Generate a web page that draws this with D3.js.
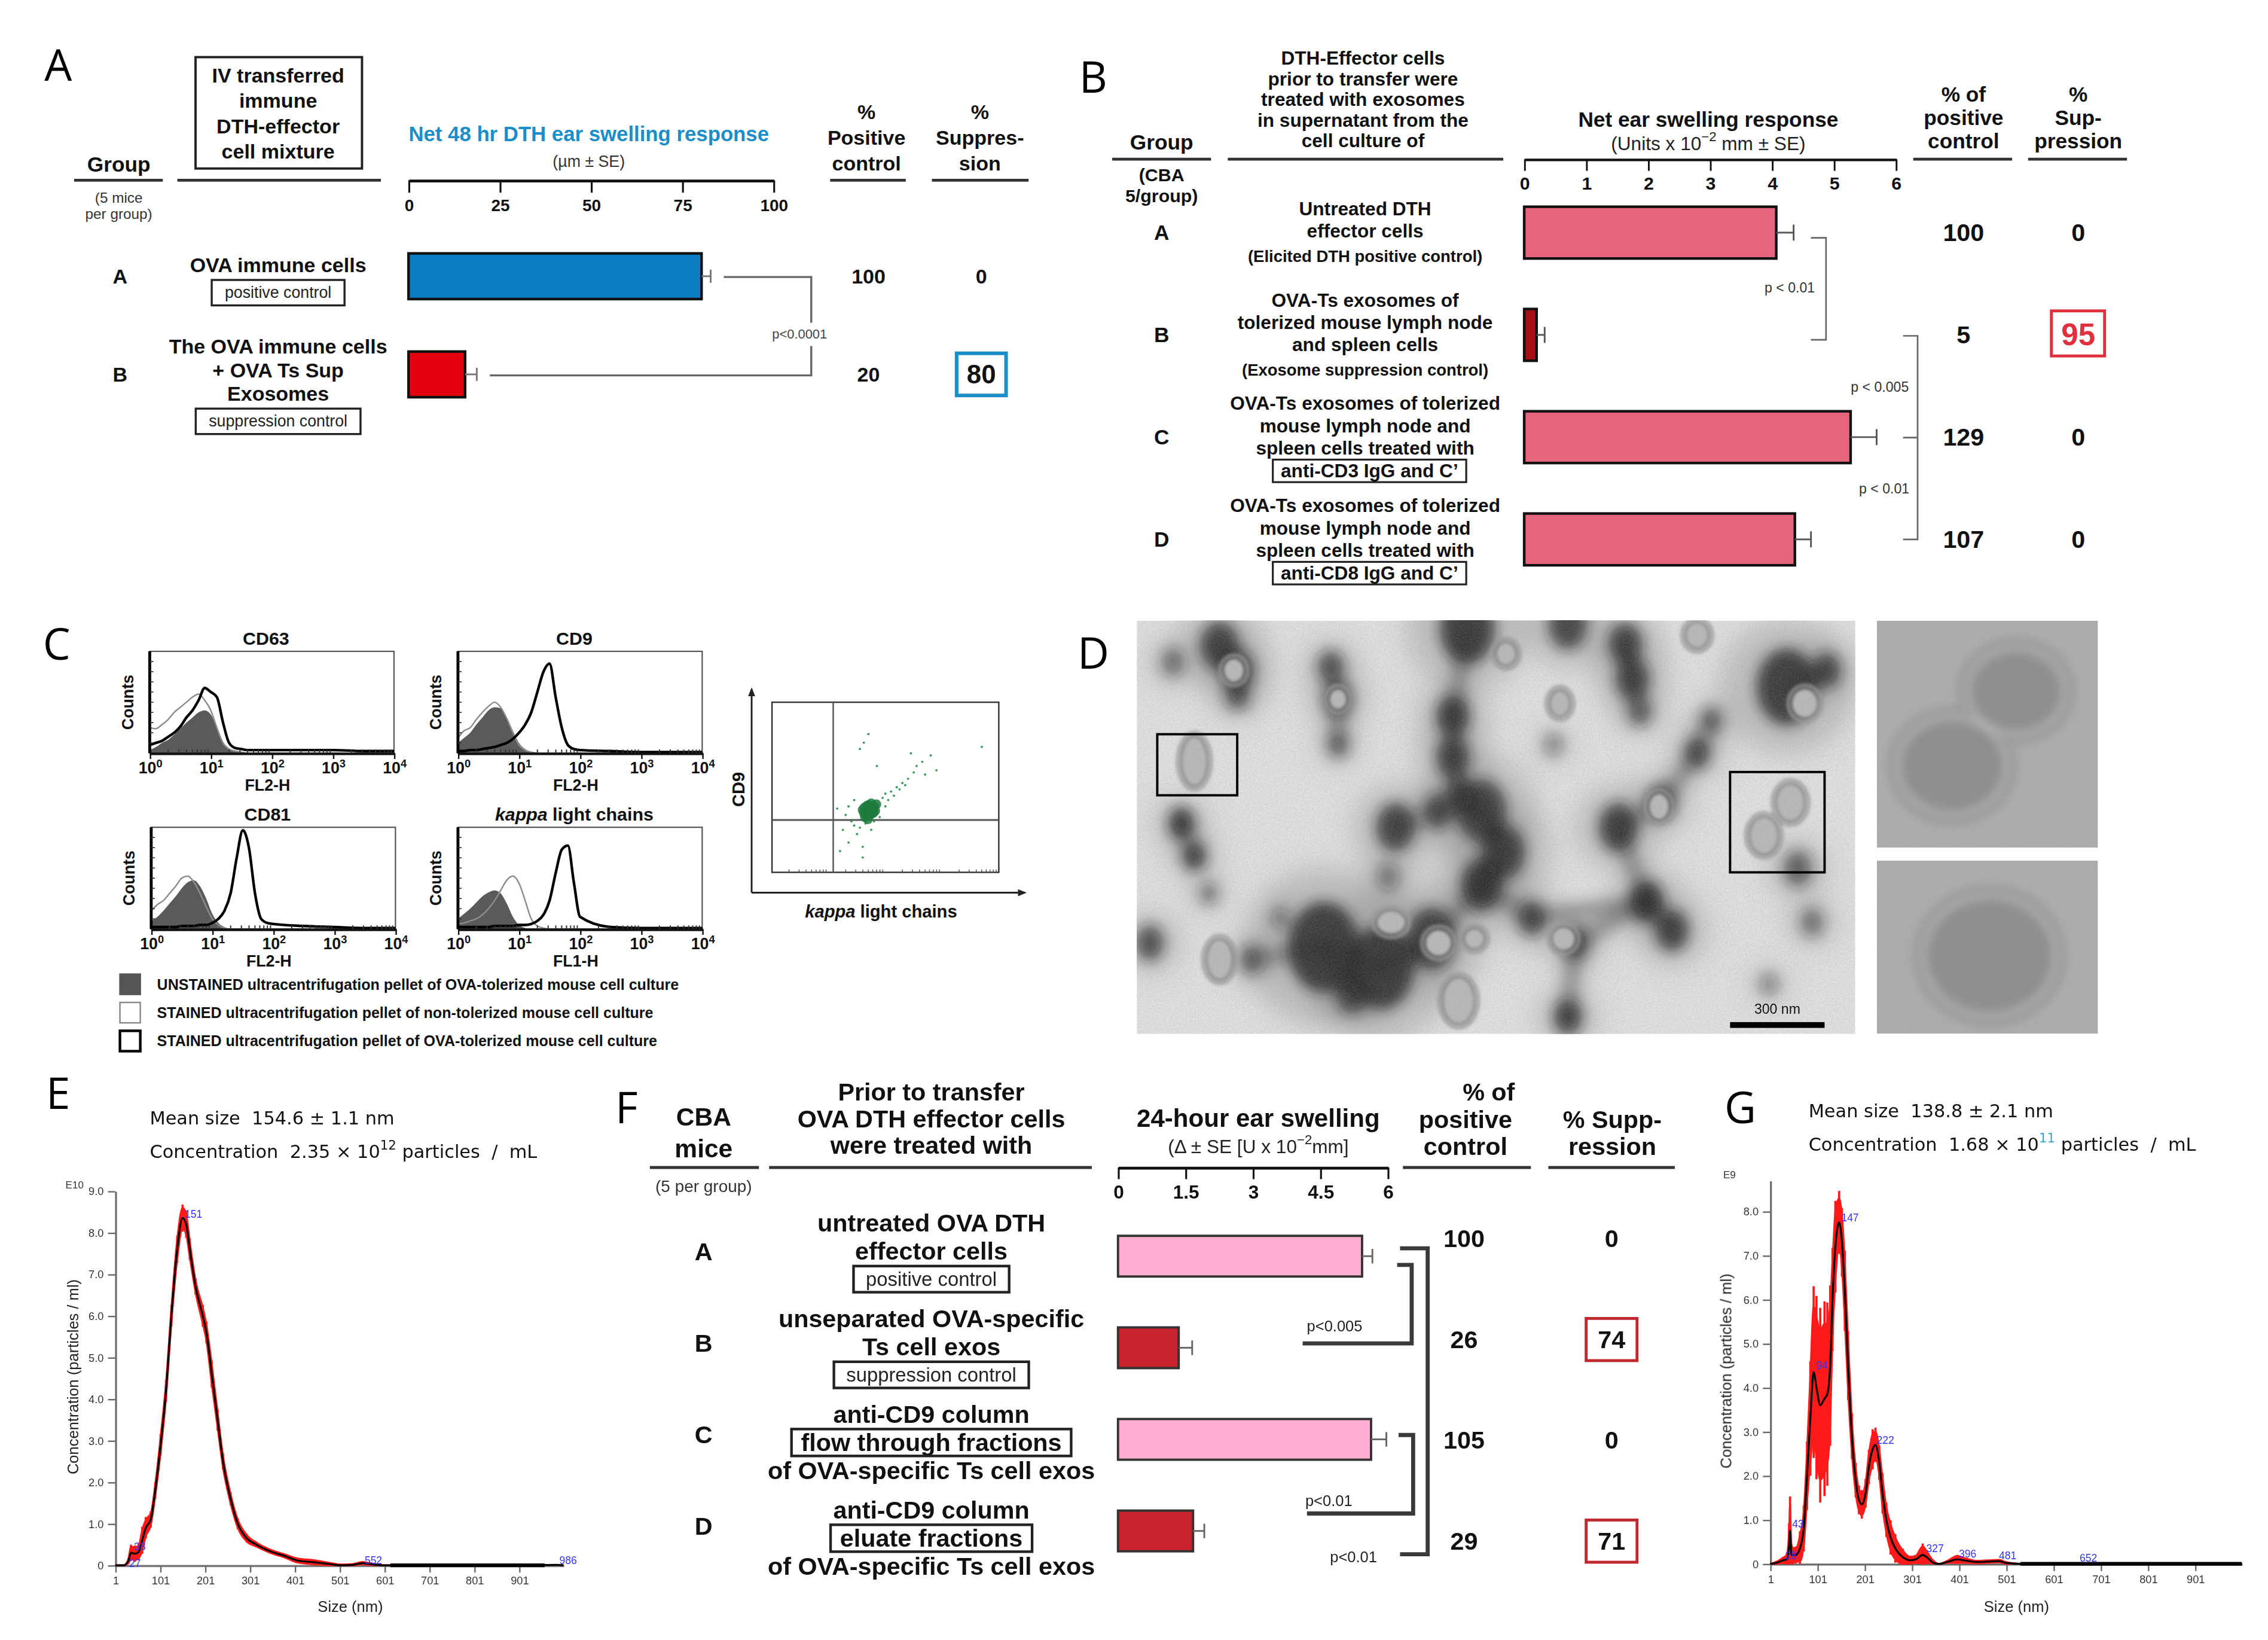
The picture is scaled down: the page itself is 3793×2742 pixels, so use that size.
<!DOCTYPE html>
<html>
<head>
<meta charset="utf-8">
<title>Exosome suppression figure</title>
<script src="https://cdn.jsdelivr.net/npm/d3@7"></script>
<style>
  html, body { margin: 0; padding: 0; background: #fff; }
  svg { display: block; }
</style>
</head>
<body>
<div id="figure"></div>
<script>
// ---------- panel A : 48 hr DTH ear swelling ----------
const aGroups = ['A', 'B'];
const aTreatment = [['OVA immune cells'], ['The OVA immune cells', '+ OVA Ts Sup', 'Exosomes']];
const aTags = ['positive control', 'suppression control'];
const aSwelling = [80.3, 15.5];
const aSE = [2.5, 3.2];
const aPositive = [100, 20];
const aSuppression = [0, 80];
const aTicks = [0, 25, 50, 75, 100];

// ---------- panel B : net ear swelling ----------
const bGroups = ['A', 'B', 'C', 'D'];
const bTreatment = [
  ['Untreated DTH', 'effector cells'],
  ['OVA-Ts exosomes of', 'tolerized mouse lymph node', 'and spleen cells'],
  ['OVA-Ts exosomes of tolerized', 'mouse lymph node and', 'spleen cells treated with'],
  ['OVA-Ts exosomes of tolerized', 'mouse lymph node and', 'spleen cells treated with']
];
const bNotes = ['(Elicited DTH positive control)', '(Exosome suppression control)', null, null];
const bTags = [null, null, 'anti-CD3 IgG and C\u2019', 'anti-CD8 IgG and C\u2019'];
const bSwelling = [4.07, 0.2, 5.27, 4.37];
const bSE = [0.28, 0.13, 0.42, 0.26];
const bPositive = [100, 5, 129, 107];
const bSuppression = [0, 95, 0, 0];
const bTicks = [0, 1, 2, 3, 4, 5, 6];

// ---------- panel C : flow cytometry histograms (log10 decades, % of max) ----------
const histLog = [0, 0.1, 0.2, 0.3, 0.4, 0.5, 0.6, 0.7, 0.8, 0.9, 1.0, 1.1, 1.2, 1.3, 1.4, 1.5, 1.6, 1.7, 1.8, 1.9, 2.0, 2.5, 3.0, 3.5, 4.0];
const cd63Unstained = [3, 6, 10, 13, 18, 24, 30, 35, 40, 42, 38, 25, 10, 4, 2, 1, 0, 0, 0, 0, 0, 0, 0, 0, 0];
const cd63NonTol = [25, 24, 28, 33, 40, 45, 50, 55, 58, 52, 42, 25, 10, 4, 2, 1, 0, 0, 0, 0, 0, 0, 0, 0, 0];
const cd63Tol = [8, 10, 12, 16, 20, 26, 35, 42, 52, 64, 60, 55, 30, 10, 5, 4, 3, 3, 3, 3, 3, 3, 3, 2, 2];
const cd9Unstained = [10, 15, 20, 28, 35, 42, 45, 44, 35, 22, 10, 4, 1, 0, 0, 0, 0, 0, 0, 0, 0, 0, 0, 0, 0];
const cd9NonTol = [15, 22, 25, 33, 40, 46, 50, 45, 34, 20, 8, 3, 1, 0, 0, 0, 0, 0, 0, 0, 0, 0, 0, 0, 0];
const cd9Tol = [2, 2, 3, 3, 4, 5, 6, 8, 10, 14, 20, 28, 40, 60, 80, 88, 55, 25, 8, 4, 3, 2, 1, 1, 1];
const cd81Unstained = [8, 12, 18, 25, 32, 40, 46, 48, 42, 30, 15, 6, 2, 0, 0, 0, 0, 0, 0, 0, 0, 0, 0, 0, 0];
const cd81NonTol = [18, 24, 28, 35, 42, 50, 52, 46, 35, 22, 10, 4, 1, 0, 0, 0, 0, 0, 0, 0, 0, 0, 0, 0, 0];
const cd81Tol = [2, 2, 2, 2, 2, 3, 3, 3, 4, 4, 6, 10, 18, 35, 70, 97, 80, 35, 10, 6, 5, 3, 2, 1, 1];
const kappaUnstained = [10, 15, 20, 26, 32, 36, 38, 35, 25, 12, 4, 1, 0, 0, 0, 0, 0, 0, 0, 0, 0, 0, 0, 0, 0];
const kappaNonTol = [5, 6, 8, 10, 14, 20, 28, 38, 48, 52, 45, 28, 10, 3, 1, 0, 0, 0, 0, 0, 0, 0, 0, 0, 0];
const kappaTol = [2, 2, 2, 2, 2, 2, 3, 3, 3, 3, 4, 4, 5, 8, 14, 28, 55, 78, 82, 45, 12, 2, 1, 1, 1];
const histTicks = [0, 1, 2, 3, 4];

// dot plot CD9 vs kappa (log10 decades)
const dotKappa = [1.55, 1.62, 1.70, 2.30, 2.40, 2.50, 2.55, 2.65, 2.20, 2.10, 2.00, 1.95, 2.05, 2.15, 2.25, 2.35, 1.50, 1.45, 1.40, 1.60,
  1.35, 1.30, 1.25, 3.70, 2.80, 1.85, 1.15, 2.70, 1.90, 1.75, 1.55, 1.65, 1.80, 2.00, 1.45, 1.35, 2.45, 2.90, 1.20, 1.60];
const dotCD9 = [2.90, 3.05, 3.25, 2.10, 2.20, 2.35, 2.50, 2.60, 2.00, 1.90, 1.85, 1.75, 1.70, 1.80, 1.95, 2.05, 0.90, 1.10, 1.20, 0.60,
  0.70, 1.35, 1.00, 2.95, 2.75, 2.50, 1.50, 2.30, 1.30, 1.00, 1.05, 1.15, 1.20, 1.55, 1.70, 1.55, 2.80, 2.40, 0.50, 0.35];
const coreKappa = [1.62, 1.68, 1.74, 1.80, 1.66, 1.72, 1.78, 1.70, 1.64, 1.76, 1.84, 1.69, 1.73, 1.60, 1.82, 1.75, 1.67, 1.71, 1.79, 1.63];
const coreCD9 = [1.40, 1.45, 1.50, 1.55, 1.35, 1.42, 1.48, 1.58, 1.30, 1.38, 1.60, 1.25, 1.52, 1.47, 1.45, 1.62, 1.56, 1.33, 1.40, 1.52];
const gateKappa = 1.08;
const gateCD9 = 1.23;

// ---------- panel D : electron micrograph (fractions of frame, radius px) ----------
const temDark = [[0.115, 0.06, 14, 0.85], [0.14, 0.12, 12, 0.8], [0.14, 0.18, 8, 0.7], [0.27, 0.11, 9, 0.7], [0.28, 0.19, 10, 0.75],
  [0.28, 0.30, 7, 0.6], [0.46, 0.02, 20, 0.9], [0.6, 0.01, 14, 0.85], [0.68, 0.055, 12, 0.85], [0.69, 0.14, 12, 0.8], [0.70, 0.22, 8, 0.6],
  [0.905, 0.16, 22, 0.95], [0.96, 0.12, 10, 0.8], [0.44, 0.23, 12, 0.85], [0.44, 0.33, 12, 0.8], [0.45, 0.42, 10, 0.75], [0.062, 0.49, 9, 0.9],
  [0.08, 0.57, 8, 0.85], [0.36, 0.5, 14, 0.85], [0.42, 0.46, 10, 0.7], [0.48, 0.46, 18, 0.85], [0.51, 0.56, 16, 0.85], [0.48, 0.64, 15, 0.9],
  [0.67, 0.5, 14, 0.85], [0.73, 0.44, 10, 0.8], [0.78, 0.32, 9, 0.7], [0.8, 0.24, 7, 0.6], [0.71, 0.68, 12, 0.9], [0.745, 0.75, 12, 0.85],
  [0.26, 0.79, 26, 0.95], [0.34, 0.84, 24, 0.95], [0.41, 0.77, 18, 0.85], [0.3, 0.9, 12, 0.8], [0.018, 0.78, 10, 0.8], [0.6, 0.96, 10, 0.85],
  [0.1, 0.66, 6, 0.6], [0.92, 0.6, 10, 0.7], [0.94, 0.73, 8, 0.6], [0.16, 0.82, 8, 0.6], [0.61, 0.78, 10, 0.7], [0.55, 0.72, 10, 0.75],
  [0.35, 0.62, 8, 0.5], [0.2, 0.72, 6, 0.5], [0.88, 0.88, 6, 0.5], [0.05, 0.1, 8, 0.6], [0.58, 0.3, 6, 0.5]];
// dark stain strands joining blobs (indices into temDark)
const temStrands = [[6, 13], [13, 14], [14, 15], [15, 20], [20, 21], [21, 22], [18, 19], [19, 20], [22, 31], [29, 30], [30, 31],
  [23, 24], [23, 27], [27, 28], [24, 25], [25, 26], [11, 12], [8, 9], [9, 10], [0, 1], [1, 2], [3, 4], [4, 5], [16, 17],
  [29, 32], [40, 22], [40, 27], [38, 29], [39, 27], [34, 39]];
const temVesicles = [[0.08, 0.34, 9, 17], [0.91, 0.44, 10, 13], [0.873, 0.52, 10, 13], [0.589, 0.2, 7, 9], [0.727, 0.45, 7, 9],
  [0.115, 0.82, 9, 14], [0.448, 0.92, 11, 16], [0.594, 0.77, 8, 8], [0.354, 0.73, 10, 8], [0.47, 0.77, 7, 7], [0.78, 0.035, 8, 9],
  [0.514, 0.08, 7, 8], [0.135, 0.12, 7, 8], [0.28, 0.19, 6, 7], [0.93, 0.2, 9, 10], [0.42, 0.78, 9, 9]];
const insetTopVesicles = [[0.63, 0.31, 33, 29], [0.34, 0.64, 37, 33]];
const insetBottomVesicles = [[0.51, 0.55, 45, 41]];

// ---------- panel E / G : nanoparticle tracking ----------
const eSize = [1, 20, 30, 36, 45, 53, 61, 69, 80, 90, 102, 114, 126, 139, 151, 159, 167, 180, 196, 204,
  216, 229, 241, 258, 274, 294, 315, 348, 380, 405, 446, 479, 503, 530, 552, 575, 602, 700, 800, 900, 986, 1000];
const eConc = [0, 0, 0.1, 0.3, 0.28, 0.32, 0.6, 0.9, 1.1, 1.8, 2.9, 4.2, 6.0, 7.6, 8.35, 8.2, 7.6, 6.7, 6.0, 5.6,
  4.6, 3.5, 2.5, 1.6, 1.0, 0.65, 0.5, 0.33, 0.22, 0.12, 0.07, 0.03, 0, 0.01, 0.05, 0.02, 0, 0, 0, 0, 0.01, 0];
const eErr = [0, 0, 0.05, 0.15, 0.15, 0.15, 0.25, 0.2, 0.15, 0.15, 0.2, 0.2, 0.2, 0.25, 0.25, 0.25, 0.2, 0.15, 0.2, 0.2,
  0.25, 0.2, 0.15, 0.12, 0.1, 0.08, 0.05, 0.04, 0.04, 0.05, 0.05, 0.03, 0.02, 0.02, 0.03, 0.02, 0, 0, 0, 0, 0, 0];
const ePeaks = [27, 38, 151, 552, 986];
const ePeakY = [0.05, 0.45, 8.45, 0.12, 0.12];
const eBaseline = [614, 958];
const eYTicks = [0, 1, 2, 3, 4, 5, 6, 7, 8, 9];

const gSize = [1, 16, 28, 36, 41, 43, 46, 55, 64, 72, 79, 86, 93, 99, 107, 116, 122, 128, 133, 139,
  147, 153, 159, 166, 174, 182, 189, 195, 203, 210, 218, 224, 232, 239, 247, 256, 266, 282, 297, 309,
  324, 336, 347, 359, 378, 397, 416, 439, 462, 486, 501, 532, 1000];
const gConc = [0, 0.03, 0.08, 0.1, 0.4, 0.75, 0.2, 0.2, 0.35, 0.8, 2.0, 3.3, 4.35, 4.0, 3.6, 3.75, 3.85, 4.5, 6.0, 7.2,
  7.75, 7.3, 6.2, 4.5, 2.9, 1.9, 1.45, 1.35, 1.6, 2.2, 2.6, 2.7, 2.3, 1.6, 1.0, 0.6, 0.35, 0.15, 0.08, 0.1,
  0.2, 0.12, 0.02, 0, 0.05, 0.1, 0.07, 0.04, 0.05, 0.06, 0.02, 0, 0];
const gErr = [0, 0.03, 0.06, 0.1, 0.4, 0.6, 0.2, 0.15, 0.3, 0.4, 0.6, 1.0, 1.5, 1.6, 1.7, 1.7, 1.6, 1.4, 0.9, 0.8,
  0.55, 0.6, 0.7, 0.6, 0.4, 0.3, 0.25, 0.25, 0.25, 0.3, 0.35, 0.3, 0.3, 0.35, 0.3, 0.3, 0.25, 0.15, 0.08, 0.08,
  0.2, 0.1, 0.05, 0, 0.03, 0.08, 0.05, 0.03, 0.03, 0.03, 0.02, 0, 0];
const gPeaks = [28, 43, 94, 147, 222, 327, 396, 481, 652];
const gPeakY = [0.19, 0.9, 4.5, 7.86, 2.8, 0.35, 0.23, 0.19, 0.13];
const gBaseline = [531, 1000];
const gYTicks = [0, 1, 2, 3, 4, 5, 6, 7, 8];
const ntaTicks = [1, 101, 201, 301, 401, 501, 601, 701, 801, 901];

// ---------- panel F : 24-hour ear swelling ----------
const fGroups = ['A', 'B', 'C', 'D'];
const fLines = [['untreated OVA DTH', 'effector cells'], ['unseparated OVA-specific', 'Ts cell exos'], ['anti-CD9 column'], ['anti-CD9 column']];
const fTags = ['positive control', 'suppression control', 'flow through fractions', 'eluate fractions'];
const fAfter = [null, null, 'of OVA-specific Ts cell exos', 'of OVA-specific Ts cell exos'];
const fSwelling = [5.43, 1.35, 5.63, 1.67];
const fSE = [0.23, 0.3, 0.34, 0.25];
const fPositive = [100, 26, 105, 29];
const fSuppression = [0, 74, 0, 71];
const fTicks = [0, 1.5, 3, 4.5, 6];

// ================= drawing =================
const W = 1560, H = 1128;
const svg = d3.select('#figure').append('svg')
  .attr('width', 3793).attr('height', 2742)
  .attr('viewBox', `0 0 ${W} ${H}`)
  .attr('preserveAspectRatio', 'none')
  .style('background', '#fff');
const defs = svg.append('defs');

const SANS = "'Liberation Sans', Arial, Helvetica, sans-serif";
const VERD = "'DejaVu Sans', Verdana, sans-serif";
const LETTER = "'Open Sans', 'Liberation Sans', sans-serif";
const plain = d => String(d);

function txt(g, x, y, s, o = {}) {
  return g.append('text')
    .attr('x', x).attr('y', y)
    .attr('text-anchor', o.anchor || 'middle')
    .attr('dominant-baseline', 'central')
    .attr('font-family', o.family || SANS)
    .attr('font-size', o.size || 12)
    .attr('font-weight', o.weight || 'bold')
    .attr('font-style', o.style || 'normal')
    .attr('fill', o.fill || '#111')
    .text(s);
}

// text made of pieces, some raised as superscript
function supText(g, x, y, parts, o) {
  const t = txt(g, x, y, null, o);
  const lift = o.size * 0.38;
  parts.forEach(([s, sup], i) => {
    const ts = t.append('tspan').text(s);
    if (sup) ts.attr('dy', -lift).attr('font-size', o.size * 0.7);
    else if (i > 0 && parts[i - 1][1]) ts.attr('dy', lift);
  });
  return t;
}

function boxed(g, x, y, s, o = {}) {
  const t = txt(g, x, y, s, o);
  const w = t.node().getComputedTextLength();
  const padX = o.padX != null ? o.padX : 5;
  const h = o.h || (o.size || 12) * 1.3;
  g.append('rect').attr('x', x - w / 2 - padX).attr('y', y - h / 2)
    .attr('width', w + 2 * padX).attr('height', h)
    .attr('fill', 'none').attr('stroke', o.stroke || '#222').attr('stroke-width', o.sw || 1.4);
  return t;
}

function rule(g, x1, x2, y, w = 2, c = '#333') {
  g.append('line').attr('x1', x1).attr('x2', x2).attr('y1', y).attr('y2', y)
    .attr('stroke', c).attr('stroke-width', w);
}

function panelLetter(x, y, s) {
  txt(svg, x, y, s, { family: LETTER, size: 30, weight: 'normal', fill: '#000' });
}

function styleAxis(sel, size, weight, color) {
  sel.attr('font-family', SANS).attr('font-size', size).attr('font-weight', weight);
  sel.selectAll('text').attr('fill', color || '#111');
  sel.selectAll('line, path').attr('stroke', color || '#111');
}

function errorBar(g, x0, x1, y, cap, c) {
  g.append('line').attr('x1', x0).attr('x2', x1).attr('y1', y).attr('y2', y).attr('stroke', c).attr('stroke-width', 1.2);
  g.append('line').attr('x1', x1).attr('x2', x1).attr('y1', y - cap / 2).attr('y2', y + cap / 2).attr('stroke', c).attr('stroke-width', 1.2);
}

// ---------------- A ----------------
{
  const g = svg.append('g');
  panelLetter(40, 44, 'A');
  const x = d3.scaleLinear().domain([0, 100]).range([281, 532]);
  const row = d3.scalePoint().domain(aGroups).range([190, 257.5]);
  const textRow = d3.scalePoint().domain(aGroups).range([191.8, 264]);

  txt(g, 81.7, 113, 'Group', { size: 14.5 });
  txt(g, 81.7, 136, '(5 mice', { size: 10, weight: 'normal', fill: '#333' });
  txt(g, 81.7, 147, 'per group)', { size: 10, weight: 'normal', fill: '#333' });
  g.append('rect').attr('x', 134.5).attr('y', 39.3).attr('width', 114.5).attr('height', 76.6)
    .attr('fill', 'none').attr('stroke', '#222').attr('stroke-width', 1.6);
  ['IV transferred', 'immune', 'DTH-effector', 'cell mixture'].forEach((s, i) => txt(g, 191.3, 52 + i * 17.3, s, { size: 14 }));
  txt(g, 405, 92, 'Net 48 hr DTH ear swelling response', { size: 14.3, fill: '#1b8dc8' });
  txt(g, 405, 111, '(\u00b5m \u00b1 SE)', { size: 11, weight: 'normal', fill: '#333' });
  ['%', 'Positive', 'control'].forEach((s, i) => txt(g, 596, 77 + i * 17.7, s, { size: 14 }));
  ['%', 'Suppres-', 'sion'].forEach((s, i) => txt(g, 674, 77 + i * 17.7, s, { size: 14 }));
  rule(g, 51, 112, 124); rule(g, 122, 262, 124); rule(g, 571, 623, 124); rule(g, 641, 707.5, 124);

  g.append('g').attr('transform', 'translate(0,124)')
    .call(d3.axisBottom(x).tickValues(aTicks).tickFormat(plain).tickSize(8.5).tickSizeOuter(0).tickPadding(4.5))
    .call(s => { styleAxis(s, 11.5, 'bold'); s.select('.domain').attr('stroke-width', 2); s.selectAll('.tick line').attr('stroke-width', 1.3); });

  aGroups.forEach((grp, i) => {
    txt(g, 82.6, row(grp), grp, { size: 14 });
    const lines = aTreatment[i];
    const step = 16.3;
    const top = textRow(grp) - ((lines.length - 1) * step + 19) / 2;
    lines.forEach((s, j) => txt(g, 191.3, top + j * step, s, { size: 14 }));
    boxed(g, 191.3, top + (lines.length - 1) * step + 19, aTags[i], { size: 11, weight: 'normal', h: 17.5, padX: 9, fill: '#222' });
  });

  const aColors = ['#0a7cc1', '#e3000f'];
  g.selectAll('.abar').data(aSwelling).join('rect').attr('class', 'abar')
    .attr('x', x(0)).attr('y', (d, i) => row(aGroups[i]) - 15.7)
    .attr('width', d => x(d) - x(0)).attr('height', 31.4)
    .attr('fill', (d, i) => aColors[i]).attr('stroke', '#111').attr('stroke-width', 1.8);
  aSwelling.forEach((d, i) => errorBar(g, x(d), x(d + aSE[i]), row(aGroups[i]), 9, '#777'));

  const bx = 558;
  g.append('path')
    .attr('d', `M${x(aSwelling[0] + aSE[0]) + 9},${row('A') + 0.5}H${bx}V${row('B') + 0.7}H${x(aSwelling[1] + aSE[1]) + 9}`)
    .attr('fill', 'none').attr('stroke', '#666').attr('stroke-width', 1.4);
  g.append('rect').attr('x', 553).attr('y', 222).attr('width', 10).attr('height', 16).attr('fill', '#fff');
  txt(g, 550, 229.8, 'p<0.0001', { size: 9, weight: 'normal', fill: '#444' });

  aGroups.forEach((grp, i) => {
    txt(g, 597.4, row(grp), aPositive[i], { size: 14 });
    if (aSuppression[i] > 0) {
      g.append('rect').attr('x', 658).attr('y', row(grp) - 14.5).attr('width', 34).attr('height', 29)
        .attr('fill', 'none').attr('stroke', '#1b8dc8').attr('stroke-width', 2.5);
      txt(g, 675, row(grp), aSuppression[i], { size: 18 });
    } else {
      txt(g, 675, row(grp), aSuppression[i], { size: 14 });
    }
  });
}

// ---------------- B ----------------
{
  const g = svg.append('g');
  panelLetter(752, 52, 'B');
  const x = d3.scaleLinear().domain([0, 6]).range([1048.4, 1304]);
  const row = d3.scalePoint().domain(bGroups).range([160, 371]);

  ['DTH-Effector cells', 'prior to transfer were', 'treated with exosomes', 'in supernatant from the', 'cell culture of']
    .forEach((s, i) => txt(g, 937.5, 40 + i * 14.2, s, { size: 13 }));
  txt(g, 799, 97.5, 'Group', { size: 14.5 });
  txt(g, 799, 120, '(CBA', { size: 12.5 });
  txt(g, 799, 134.5, '5/group)', { size: 12.5 });
  txt(g, 1175, 82, 'Net ear swelling response', { size: 14.5 });
  supText(g, 1175, 98.8, [['(Units x 10', false], ['\u22122', true], [' mm \u00b1 SE)', false]], { size: 13, weight: 'normal', fill: '#222' });
  ['% of', 'positive', 'control'].forEach((s, i) => txt(g, 1350.6, 64.6 + i * 16.1, s, { size: 14.5 }));
  ['%', 'Sup-', 'pression'].forEach((s, i) => txt(g, 1429.5, 64.6 + i * 16.1, s, { size: 14.5 }));
  rule(g, 765, 833, 109.5); rule(g, 844.5, 1034, 109.5); rule(g, 1316, 1384, 109.5); rule(g, 1395, 1463, 109.5);

  g.append('g').attr('transform', 'translate(0,109.5)')
    .call(d3.axisBottom(x).tickValues(bTicks).tickFormat(plain).tickSize(8).tickSizeOuter(0).tickPadding(4))
    .call(s => { styleAxis(s, 12.5, 'bold'); s.select('.domain').attr('stroke-width', 1.8); s.selectAll('.tick line').attr('stroke-width', 1.2); });

  bGroups.forEach((grp, i) => {
    const cy = row(grp);
    txt(g, 799, cy, grp, { size: 14.5 });
    const items = bTreatment[i].map(s => ({ s, kind: 'line' }));
    if (bNotes[i]) items.push({ s: bNotes[i], kind: 'note' });
    if (bTags[i]) items.push({ s: bTags[i], kind: 'tag' });
    let pos = 0;
    items.forEach((it, j) => {
      if (j > 0) pos += it.kind === 'note' ? 17.4 : it.kind === 'tag' ? 15.8 : 15.3;
      it.y = pos;
    });
    const off = cy - pos / 2;
    items.forEach(it => {
      if (it.kind === 'line') txt(g, 939, off + it.y, it.s, { size: 13 });
      else if (it.kind === 'note') txt(g, 939, off + it.y, it.s, { size: 11.3 });
      else boxed(g, 942, off + it.y, it.s, { size: 13, h: 15.5, padX: 5.5, sw: 1.3 });
    });
  });

  const bColors = ['#e7657c', '#a50f15', '#e7657c', '#e7657c'];
  g.selectAll('.bbar').data(bSwelling).join('rect').attr('class', 'bbar')
    .attr('x', x(0)).attr('y', (d, i) => row(bGroups[i]) - 17.8)
    .attr('width', d => x(d) - x(0)).attr('height', 35.6)
    .attr('fill', (d, i) => bColors[i]).attr('stroke', '#111').attr('stroke-width', 1.8);
  bSwelling.forEach((d, i) => errorBar(g, x(d), x(d + bSE[i]), row(bGroups[i]), 11, '#555'));

  const bracket = d => g.append('path').attr('d', d).attr('fill', 'none').attr('stroke', '#666').attr('stroke-width', 1.1);
  bracket('M1245.6,163.6H1256V233.7H1245.6');
  bracket('M1309,231H1319V371H1309M1309,301H1319');
  txt(g, 1231, 198, 'p < 0.01', { size: 9.5, weight: 'normal', fill: '#333' });
  txt(g, 1293, 266, 'p < 0.005', { size: 9.5, weight: 'normal', fill: '#333' });
  txt(g, 1296, 336, 'p < 0.01', { size: 9.5, weight: 'normal', fill: '#333' });

  bGroups.forEach((grp, i) => {
    txt(g, 1350.6, row(grp), bPositive[i], { size: 17 });
    if (bSuppression[i] > 0) {
      g.append('rect').attr('x', 1411).attr('y', row(grp) - 16.5).attr('width', 36.6).attr('height', 31)
        .attr('fill', 'none').attr('stroke', '#e0303c').attr('stroke-width', 2);
      txt(g, 1429.5, row(grp), bSuppression[i], { size: 21, fill: '#e0303c' });
    } else {
      txt(g, 1429.5, row(grp), bSuppression[i], { size: 17 });
    }
  });
}

// ---------------- C ----------------
{
  const g = svg.append('g');
  panelLetter(39, 442, 'C');
  const HW = 168, HH = 70;
  const hists = [
    { title: ['CD63'], x: 103, y: 448, label: 'FL2-H', un: cd63Unstained, non: cd63NonTol, tol: cd63Tol },
    { title: ['CD9'], x: 315, y: 448, label: 'FL2-H', un: cd9Unstained, non: cd9NonTol, tol: cd9Tol },
    { title: ['CD81'], x: 104, y: 569, label: 'FL2-H', un: cd81Unstained, non: cd81NonTol, tol: cd81Tol },
    { title: ['kappa', ' light chains'], x: 315, y: 569, label: 'FL1-H', un: kappaUnstained, non: kappaNonTol, tol: kappaTol }
  ];
  const minor = [];
  for (let dec = 0; dec < 4; dec++) for (let k = 2; k < 10; k++) minor.push(dec + Math.log10(k));

  hists.forEach(p => {
    const x = d3.scaleLinear().domain([0, 4]).range([p.x, p.x + HW]);
    const y = d3.scaleLinear().domain([0, 100]).range([p.y + HH, p.y]);
    const t = txt(g, p.x + HW / 2 - 4, p.y - 9, null, { size: 12.5 });
    p.title.forEach((s, j) => t.append('tspan').attr('font-style', j === 0 && p.title.length > 1 ? 'italic' : 'normal').text(s));
    g.append('rect').attr('x', p.x).attr('y', p.y).attr('width', HW).attr('height', HH)
      .attr('fill', 'none').attr('stroke', '#555').attr('stroke-width', 0.9);

    const area = d3.area().x((d, i) => x(histLog[i])).y0(y(0)).y1(d => y(d)).curve(d3.curveMonotoneX);
    const line = d3.line().x((d, i) => x(histLog[i])).y(d => y(d)).curve(d3.curveMonotoneX);
    g.append('path').datum(p.un).attr('d', area).attr('fill', '#5a5a5a');
    g.append('path').datum(p.non).attr('d', line).attr('fill', 'none').attr('stroke', '#8c8c8c').attr('stroke-width', 1);
    g.append('path').datum(p.tol).attr('d', line).attr('fill', 'none').attr('stroke', '#000').attr('stroke-width', 1.8);

    g.append('g').attr('transform', `translate(0,${p.y + HH})`)
      .call(d3.axisBottom(x).tickValues(histTicks).tickSize(4).tickSizeOuter(0).tickPadding(2))
      .call(s => {
        styleAxis(s, 11, 'bold');
        s.select('.domain').attr('stroke-width', 1.8);
        s.selectAll('.tick text').text(null).each(function (d) {
          const te = d3.select(this);
          te.append('tspan').text('10');
          te.append('tspan').attr('dy', -4).attr('font-size', 7.5).text(d);
        });
      });
    g.selectAll(null).data(minor).join('line')
      .attr('x1', d => x(d)).attr('x2', d => x(d)).attr('y1', p.y + HH).attr('y2', p.y + HH - 2.5)
      .attr('stroke', '#333').attr('stroke-width', 0.8);
    g.append('line').attr('x1', p.x).attr('x2', p.x).attr('y1', p.y).attr('y2', p.y + HH).attr('stroke', '#000').attr('stroke-width', 2);
    g.selectAll(null).data(d3.range(10, 100, 10)).join('line')
      .attr('x1', p.x).attr('x2', p.x + 2.5).attr('y1', d => y(d)).attr('y2', d => y(d))
      .attr('stroke', '#333').attr('stroke-width', 0.7);
    txt(g, p.x + HW / 2 - 3, p.y + HH + 22, p.label, { size: 11 });
    txt(g, p.x - 15, p.y + HH / 2, 'Counts', { size: 11 })
      .attr('transform', `rotate(-90,${p.x - 15},${p.y + HH / 2})`);
  });

  // legend
  const legend = [
    { s: 'UNSTAINED ultracentrifugation pellet of OVA-tolerized mouse cell culture', fill: '#555', stroke: '#555', sw: 1 },
    { s: 'STAINED ultracentrifugation pellet of non-tolerized mouse cell culture', fill: '#fff', stroke: '#888', sw: 1 },
    { s: 'STAINED ultracentrifugation pellet of OVA-tolerized mouse cell culture', fill: '#fff', stroke: '#000', sw: 1.8 }
  ];
  legend.forEach((l, i) => {
    const cy = 677 + i * 19.5;
    g.append('rect').attr('x', 82.5).attr('y', cy - 7).attr('width', 14).attr('height', 14)
      .attr('fill', l.fill).attr('stroke', l.stroke).attr('stroke-width', l.sw);
    txt(g, 108, cy, l.s, { size: 10.3, anchor: 'start' });
  });

  // dot plot
  const sx = d3.scaleLinear().domain([0, 4]).range([531, 687]);
  const sy = d3.scaleLinear().domain([0, 4]).range([600, 483]);
  defs.append('marker').attr('id', 'arrow').attr('viewBox', '0 0 10 10').attr('refX', 8).attr('refY', 5)
    .attr('markerWidth', 5).attr('markerHeight', 5).attr('orient', 'auto')
    .append('path').attr('d', 'M0,1L10,5L0,9z').attr('fill', '#222');
  g.append('line').attr('x1', 517).attr('y1', 614).attr('x2', 517).attr('y2', 474)
    .attr('stroke', '#222').attr('stroke-width', 1.2).attr('marker-end', 'url(#arrow)');
  g.append('line').attr('x1', 517).attr('y1', 614).attr('x2', 705).attr('y2', 614)
    .attr('stroke', '#222').attr('stroke-width', 1.2).attr('marker-end', 'url(#arrow)');
  g.append('rect').attr('x', sx(0)).attr('y', sy(4)).attr('width', sx(4) - sx(0)).attr('height', sy(0) - sy(4))
    .attr('fill', 'none').attr('stroke', '#333').attr('stroke-width', 1);
  g.append('line').attr('x1', sx(gateKappa)).attr('x2', sx(gateKappa)).attr('y1', sy(0)).attr('y2', sy(4)).attr('stroke', '#555').attr('stroke-width', 1);
  g.append('line').attr('x1', sx(0)).attr('x2', sx(4)).attr('y1', sy(gateCD9)).attr('y2', sy(gateCD9)).attr('stroke', '#555').attr('stroke-width', 1.2);
  g.selectAll(null).data(minor).join('line')
    .attr('x1', d => sx(d)).attr('x2', d => sx(d)).attr('y1', sy(0)).attr('y2', sy(0) - 2).attr('stroke', '#555').attr('stroke-width', 0.6);
  g.selectAll('.dot').data(dotKappa).join('circle').attr('class', 'dot')
    .attr('cx', d => sx(d)).attr('cy', (d, i) => sy(dotCD9[i])).attr('r', 0.8).attr('fill', '#3a9a5a');
  g.selectAll('.core').data(coreKappa).join('circle').attr('class', 'core')
    .attr('cx', d => sx(d)).attr('cy', (d, i) => sy(coreCD9[i])).attr('r', 3.4).attr('fill', '#1d7a3d').attr('opacity', 0.85);
  txt(g, 508, 543, 'CD9', { size: 12 }).attr('transform', 'rotate(-90,508,543)');
  const kl = txt(g, 606, 627, null, { size: 12 });
  kl.append('tspan').attr('font-style', 'italic').text('kappa');
  kl.append('tspan').text(' light chains');
}

// ---------------- D ----------------
{
  const g = svg.append('g');
  panelLetter(752, 448, 'D');
  const frame = { x: 782, y: 427, w: 494, h: 284 };
  defs.append('clipPath').attr('id', 'temClip').append('rect')
    .attr('x', frame.x).attr('y', frame.y).attr('width', frame.w).attr('height', frame.h);
  const mkBlur = (id, sd) => defs.append('filter').attr('id', id)
    .attr('x', '-60%').attr('y', '-60%').attr('width', '220%').attr('height', '220%')
    .append('feGaussianBlur').attr('stdDeviation', sd);
  mkBlur('blurWide', 9); mkBlur('blurMid', 4.5); mkBlur('blurStrand', 5); mkBlur('blurSoft', 1); mkBlur('blurInset', 3);
  const grain = defs.append('filter').attr('id', 'grain').attr('x', 0).attr('y', 0).attr('width', '100%').attr('height', '100%');
  grain.append('feTurbulence').attr('type', 'fractalNoise').attr('baseFrequency', 0.9).attr('numOctaves', 2).attr('seed', 4);
  grain.append('feColorMatrix').attr('type', 'matrix').attr('values', '0 0 0 0 0.3  0 0 0 0 0.3  0 0 0 0 0.3  0 0 0 0.3 0');

  const tx = d3.scaleLinear().domain([0, 1]).range([frame.x, frame.x + frame.w]);
  const ty = d3.scaleLinear().domain([0, 1]).range([frame.y, frame.y + frame.h]);
  const img = g.append('g').attr('clip-path', 'url(#temClip)');
  img.append('rect').attr('x', frame.x).attr('y', frame.y).attr('width', frame.w).attr('height', frame.h).attr('fill', '#e8e8e8');
  img.append('g').attr('filter', 'url(#blurWide)').selectAll('circle').data(temDark).join('circle')
    .attr('cx', d => tx(d[0])).attr('cy', d => ty(d[1])).attr('r', d => d[2] * 2.1).attr('fill', '#8a8a8a').attr('opacity', 0.4);
  img.append('g').attr('filter', 'url(#blurStrand)').selectAll('line').data(temStrands).join('line')
    .attr('x1', d => tx(temDark[d[0]][0])).attr('y1', d => ty(temDark[d[0]][1]))
    .attr('x2', d => tx(temDark[d[1]][0])).attr('y2', d => ty(temDark[d[1]][1]))
    .attr('stroke', '#404040').attr('stroke-width', 12).attr('stroke-linecap', 'round').attr('opacity', 0.45);
  img.append('g').attr('filter', 'url(#blurMid)').selectAll('ellipse').data(temDark).join('ellipse')
    .attr('cx', d => tx(d[0])).attr('cy', d => ty(d[1])).attr('rx', d => d[2] * 0.95).attr('ry', d => d[2] * 1.2)
    .attr('fill', '#1c1c1c').attr('opacity', d => d[3] * 0.9);
  const ves = img.append('g').attr('filter', 'url(#blurSoft)');
  ves.selectAll('.halo').data(temVesicles).join('ellipse').attr('class', 'halo')
    .attr('cx', d => tx(d[0])).attr('cy', d => ty(d[1])).attr('rx', d => d[2] + 2.5).attr('ry', d => d[3] + 2.5)
    .attr('fill', 'none').attr('stroke', '#9a9a9a').attr('stroke-width', 2.5).attr('opacity', 0.8);
  ves.selectAll('.ves').data(temVesicles).join('ellipse').attr('class', 'ves')
    .attr('cx', d => tx(d[0])).attr('cy', d => ty(d[1])).attr('rx', d => d[2]).attr('ry', d => d[3])
    .attr('fill', '#bdbdbd').attr('stroke', '#606060').attr('stroke-width', 1.1);
  img.append('rect').attr('x', frame.x).attr('y', frame.y).attr('width', frame.w).attr('height', frame.h)
    .attr('filter', 'url(#grain)');
  g.append('rect').attr('x', 796).attr('y', 505).attr('width', 55).attr('height', 42)
    .attr('fill', 'none').attr('stroke', '#000').attr('stroke-width', 1.6);
  g.append('rect').attr('x', 1190).attr('y', 531).attr('width', 65).attr('height', 69)
    .attr('fill', 'none').attr('stroke', '#000').attr('stroke-width', 1.6);
  g.append('rect').attr('x', 1190).attr('y', 703).attr('width', 65).attr('height', 4).attr('fill', '#000');
  txt(g, 1222.5, 694, '300 nm', { size: 9.5, weight: 'normal', fill: '#111' });

  // enlarged insets
  const insets = [
    { x: 1291, y: 427, w: 152, h: 156, ves: insetTopVesicles, id: 'inTop' },
    { x: 1291, y: 592, w: 152, h: 119, ves: insetBottomVesicles, id: 'inBot' }
  ];
  insets.forEach(p => {
    defs.append('clipPath').attr('id', p.id).append('rect').attr('x', p.x).attr('y', p.y).attr('width', p.w).attr('height', p.h);
    const ix = d3.scaleLinear().domain([0, 1]).range([p.x, p.x + p.w]);
    const iy = d3.scaleLinear().domain([0, 1]).range([p.y, p.y + p.h]);
    const ig = g.append('g').attr('clip-path', `url(#${p.id})`);
    ig.append('rect').attr('x', p.x).attr('y', p.y).attr('width', p.w).attr('height', p.h).attr('fill', '#b0b0b0');
    const v = ig.append('g').attr('filter', 'url(#blurInset)');
    v.selectAll('.shade').data(p.ves).join('ellipse').attr('class', 'shade')
      .attr('cx', d => ix(d[0])).attr('cy', d => iy(d[1])).attr('rx', d => d[2] + 8).attr('ry', d => d[3] + 8)
      .attr('fill', '#9c9c9c');
    v.selectAll('.body').data(p.ves).join('ellipse').attr('class', 'body')
      .attr('cx', d => ix(d[0])).attr('cy', d => iy(d[1])).attr('rx', d => d[2]).attr('ry', d => d[3])
      .attr('fill', '#8e8e8e').attr('stroke', '#bdbdbd').attr('stroke-width', 2.5);
    ig.append('rect').attr('x', p.x).attr('y', p.y).attr('width', p.w).attr('height', p.h).attr('filter', 'url(#grain)');
  });
}

// ---------------- E and G ----------------
function nta(o) {
  const g = svg.append('g');
  panelLetter(o.letter[0], o.letter[1], o.letter[2]);
  const x = d3.scaleLinear().domain([1, 1000]).range(o.xRange);
  const y = d3.scaleLinear().domain([0, o.yMax]).range(o.yRange);
  const axisC = '#6a6a6a';

  const title = g.append('text').attr('x', o.titleX).attr('y', o.titleY).attr('font-family', VERD)
    .attr('font-size', 12.5).attr('fill', '#111').attr('dominant-baseline', 'central').style('white-space', 'pre');
  title.text(o.mean);
  const conc = supText(g, o.titleX, o.titleY + 23, [[o.conc[0], false], [o.conc[1], true], [o.conc[2], false]],
    { size: 12.5, weight: 'normal', anchor: 'start', family: VERD, fill: '#111' }).style('white-space', 'pre');
  if (o.supColor) conc.selectAll('tspan').filter((d, i) => i === 1).attr('fill', o.supColor);

  g.append('g').attr('transform', `translate(0,${y(0)})`)
    .call(d3.axisBottom(x).tickValues(ntaTicks).tickFormat(plain).tickSize(5).tickSizeOuter(0).tickPadding(3))
    .call(s => { styleAxis(s, 7.5, 'normal', axisC); s.selectAll('text').attr('fill', '#333'); s.select('.domain').attr('stroke-width', 1.3); });
  g.append('g').attr('transform', `translate(${x(1)},0)`)
    .call(d3.axisLeft(y).tickValues(o.yTicks).tickSize(5).tickSizeOuter(0).tickPadding(3)
      .tickFormat(d => d === 0 ? '0' : d.toFixed(1)))
    .call(s => { styleAxis(s, 7.5, 'normal', axisC); s.selectAll('text').attr('fill', '#333'); s.select('.domain').attr('stroke-width', 1.3); });
  txt(g, x(1) - 28, y(o.yMax) - 4, o.exp, { size: 7, weight: 'normal', fill: '#333' });

  const band = d3.area()
    .x((d, i) => x(o.size[i]))
    .y0((d, i) => y(Math.max(0, d - o.err[i])))
    .y1((d, i) => y(d + o.err[i]))
    .curve(d3.curveMonotoneX);
  g.append('path').datum(o.values).attr('d', band).attr('fill', '#ff1a1a').attr('stroke', '#ff1a1a').attr('stroke-width', 1.2);
  g.selectAll(null).data(o.values).join('line')
    .attr('x1', (d, i) => x(o.size[i])).attr('x2', (d, i) => x(o.size[i]))
    .attr('y1', (d, i) => y(Math.max(0, d - o.err[i] * 1.3))).attr('y2', (d, i) => y(d + o.err[i] * 1.3))
    .attr('stroke', '#ff1a1a').attr('stroke-width', 1.5);
  const line = d3.line().x((d, i) => x(o.size[i])).y(d => y(d)).curve(d3.curveMonotoneX);
  g.append('path').datum(o.values).attr('d', line).attr('fill', 'none').attr('stroke', '#000').attr('stroke-width', 1.3);
  g.append('line').attr('x1', x(o.baseline[0])).attr('x2', x(o.baseline[1])).attr('y1', y(0)).attr('y2', y(0))
    .attr('stroke', '#000').attr('stroke-width', 2.6);

  o.peaks.forEach((p, i) => txt(g, x(p) + 1.5, y(o.peakY[i]), p, { size: 7.2, weight: 'normal', anchor: 'start', fill: '#3333ff' }));

  txt(g, o.yLabel[0], o.yLabel[1], 'Concentration (particles / ml)', { size: 10.5, weight: 'normal', fill: '#222' })
    .attr('transform', `rotate(-90,${o.yLabel[0]},${o.yLabel[1]})`);
  txt(g, o.xLabel[0], o.xLabel[1], 'Size (nm)', { size: 10.5, weight: 'normal', fill: '#222' });
}

nta({
  letter: [40, 751, 'E'], titleX: 103, titleY: 769,
  mean: 'Mean size  154.6 \u00b1 1.1 nm', conc: ['Concentration  2.35 \u00d7 10', '12', ' particles  /  mL'],
  xRange: [79.3, 387.6], yRange: [1076.6, 819.2], yMax: 9, yTicks: eYTicks, exp: 'E10',
  size: eSize, values: eConc, err: eErr, baseline: eBaseline, peaks: ePeaks, peakY: ePeakY,
  yLabel: [50, 947], xLabel: [241, 1105]
});
nta({
  letter: [1197, 761, 'G'], titleX: 1244, titleY: 764,
  mean: 'Mean size  138.8 \u00b1 2.1 nm', conc: ['Concentration  1.68 \u00d7 10', '11', ' particles  /  mL'], supColor: '#3aa0d8',
  xRange: [1217.6, 1542], yRange: [1075.6, 812], yMax: 8.7, yTicks: gYTicks, exp: 'E9',
  size: gSize, values: gConc, err: gErr, baseline: gBaseline, peaks: gPeaks, peakY: gPeakY,
  yLabel: [1187, 943], xLabel: [1387, 1105]
});

// ---------------- F ----------------
{
  const g = svg.append('g');
  panelLetter(431, 761, 'F');
  const x = d3.scaleLinear().domain([0, 6]).range([769, 954.5]);
  const row = d3.scalePoint().domain(fGroups).range([864, 1053]);
  const textRow = d3.scalePoint().domain(fGroups).range([860.5, 1058]);
  const numRow = d3.scalePoint().domain(fGroups).range([852, 1060]);

  txt(g, 484, 768, 'CBA', { size: 17.5 });
  txt(g, 484, 790, 'mice', { size: 17.5 });
  txt(g, 484, 816, '(5 per group)', { size: 11.5, weight: 'normal', fill: '#333' });
  ['Prior to transfer', 'OVA DTH effector cells', 'were treated with'].forEach((s, i) => txt(g, 640.6, 751 + i * 18.5, s, { size: 17 }));
  txt(g, 865.5, 769, '24-hour ear swelling', { size: 17.3 });
  supText(g, 865.5, 788.5, [['(\u0394 \u00b1 SE [U x 10', false], ['\u22122', true], ['mm]', false]], { size: 13, weight: 'normal', fill: '#222' });
  txt(g, 1024, 751, '% of', { size: 17 });
  txt(g, 1008, 770, 'positive', { size: 17 });
  txt(g, 1008, 788.5, 'control', { size: 17 });
  txt(g, 1109, 770, '% Supp-', { size: 17 });
  txt(g, 1109, 788.5, 'ression', { size: 17 });
  rule(g, 447, 522, 803); rule(g, 529, 751, 803); rule(g, 965, 1053, 803); rule(g, 1065, 1152, 803);

  g.append('g').attr('transform', 'translate(0,803)')
    .call(d3.axisBottom(x).tickValues(fTicks).tickFormat(plain).tickSize(8).tickSizeOuter(0).tickPadding(4))
    .call(s => { styleAxis(s, 13, 'bold'); s.select('.domain').attr('stroke-width', 2); s.selectAll('.tick line').attr('stroke-width', 1.3); });

  fGroups.forEach((grp, i) => {
    txt(g, 484, row(grp) - 3, grp, { size: 17 });
    const items = fLines[i].map(s => ({ s, kind: 'line' }));
    items.push({ s: fTags[i], kind: 'tag' });
    if (fAfter[i]) items.push({ s: fAfter[i], kind: 'line' });
    const step = 19.3;
    const top = textRow(grp) - (items.length - 1) * step / 2;
    items.forEach((it, j) => {
      const yy = top + j * step;
      if (it.kind === 'line') txt(g, 640.6, yy, it.s, { size: 17 });
      else if (i < 2) boxed(g, 640.6, yy, it.s, { size: 13.5, weight: 'normal', h: 18, padX: 8.5, sw: 1.8, fill: '#222' });
      else boxed(g, 640.6, yy, it.s, { size: 17, h: 18.5, padX: 6.5, sw: 1.8 });
    });
  });

  const fColors = ['#ffadd0', '#c8232c', '#ffadd0', '#c8232c'];
  g.selectAll('.fbar').data(fSwelling).join('rect').attr('class', 'fbar')
    .attr('x', x(0)).attr('y', (d, i) => row(fGroups[i]) - 14)
    .attr('width', d => x(d) - x(0)).attr('height', 28)
    .attr('fill', (d, i) => fColors[i]).attr('stroke', '#333').attr('stroke-width', 1.6);
  fSwelling.forEach((d, i) => errorBar(g, x(d), x(d + fSE[i]), row(fGroups[i]), 10, '#666'));

  const bracket = d => g.append('path').attr('d', d).attr('fill', 'none')
    .attr('stroke', '#3a3a3a').attr('stroke-width', 2.8).attr('stroke-linejoin', 'miter');
  bracket('M963,858.6H982V1069H963');
  bracket('M961,870H971V924H896');
  bracket('M962,987H972V1041H899');
  txt(g, 918, 912, 'p<0.005', { size: 10.5, weight: 'normal', fill: '#222' });
  txt(g, 914, 1032, 'p<0.01', { size: 10.5, weight: 'normal', fill: '#222' });
  txt(g, 931, 1071, 'p<0.01', { size: 10.5, weight: 'normal', fill: '#222' });

  fGroups.forEach((grp, i) => {
    txt(g, 1007, numRow(grp), fPositive[i], { size: 17 });
    if (fSuppression[i] > 0) {
      g.append('rect').attr('x', 1091).attr('y', numRow(grp) - 14.5).attr('width', 35).attr('height', 29)
        .attr('fill', 'none').attr('stroke', '#c0282d').attr('stroke-width', 2);
    }
    txt(g, 1108.5, numRow(grp), fSuppression[i], { size: 17 });
  });
}
</script>
</body>
</html>
